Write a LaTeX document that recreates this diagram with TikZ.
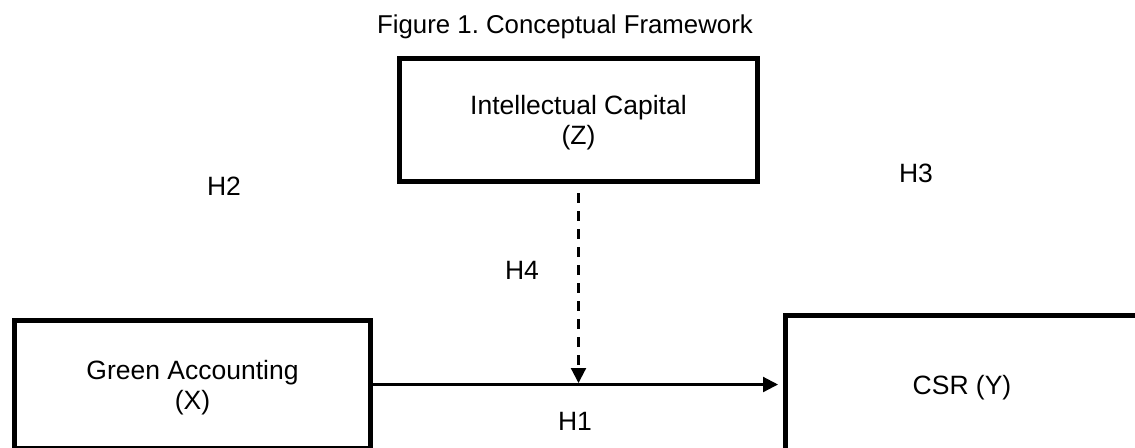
\documentclass[tikz,border=0pt]{standalone}
\usepackage{fontspec}
\setmainfont{Liberation Sans}
\usetikzlibrary{arrows.meta,positioning}
\tikzset{box/.style={draw = black, line width = 2.5pt, align = center, inner sep = 0pt, text depth = 0pt}}
\tikzset{link/.style={draw = black, line width = 1.1pt, -{Triangle[length = 7.5pt, width = 7.5pt]}}}
\tikzset{hyp/.style={inner sep = 0pt}}

\begin{document}
\frenchspacing
\begin{tikzpicture}[x = 0.5pt, y = -0.5pt, font = \fontsize{13.25}{15}\selectfont]
  \useasboundingbox (0,0) rectangle (1135,447);

  \node (title) [anchor = base, font = \fontsize{12.9}{15}\selectfont] at (565,33) {Figure 1. Conceptual Framework};

  \node (Z) [box, minimum width = 179pt, minimum height = 61.5pt] at (578.5,120) {Intellectual Capital\\(Z)};
  \node (X) [box, minimum width = 178pt, minimum height = 64pt] at (192.5,384.5) {Green Accounting\\(X)};
  \node (Y) [box, minimum width = 176.5pt, minimum height = 69pt] at (962,384.5) {CSR (Y)};
  \coordinate (M) at (Z.south |- X.east);

  \node (H1) [hyp] at (575,421) {H1};
  \node (H2) [hyp] at (224,186) {H2};
  \node (H3) [hyp] at (916,173) {H3};
  \node (H4) [hyp] at (522,270) {H4};

  \draw [link, shorten > = 2.5pt] (X.east) -- (Y.west);
  \draw [link, dash pattern = on 5pt off 4pt, shorten < = 4.5pt, shorten > = 0.75pt] (Z.south) -- (M);
\end{tikzpicture}
\end{document}
